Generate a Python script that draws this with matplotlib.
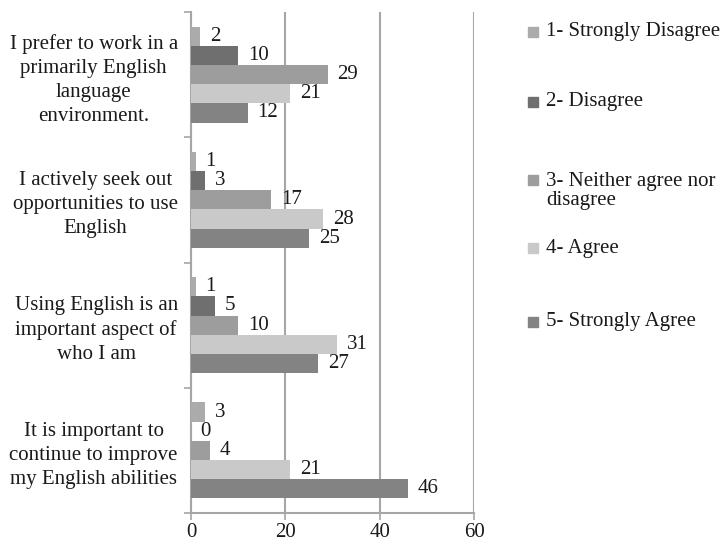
import matplotlib
matplotlib.use("Agg")
import matplotlib.pyplot as plt
from matplotlib.patches import Rectangle
import numpy as np

categories = [
    "I prefer to work in a\nprimarily English\nlanguage\nenvironment.",
    "I actively seek out\nopportunities to use\nEnglish",
    "Using English is an\nimportant aspect of\nwho I am",
    "It is important to\ncontinue to improve\nmy English abilities",
]
series_names = [
    "1- Strongly Disagree",
    "2- Disagree",
    "3- Neither agree nor\ndisagree",
    "4- Agree",
    "5- Strongly Agree",
]
values = [
    [2, 1, 1, 3],      # 1- Strongly Disagree
    [10, 3, 5, 0],     # 2- Disagree
    [29, 17, 10, 4],   # 3- Neither
    [21, 28, 31, 21],  # 4- Agree
    [12, 25, 27, 46],  # 5- Strongly Agree
]
colors = ["#ababab", "#6f6f6f", "#9d9d9d", "#c9c9c9", "#838383"]
xticks = [0, 20, 40, 60]

plt.rcParams['font.family'] = ['Liberation Serif', 'DejaVu Serif']
FS = 15
TXT = '#1a1a1a'

fig = plt.figure(figsize=(7.25, 5.45), dpi=100)
W, H = 725, 545
ax = fig.add_axes([191 / W, 1 - 513 / H, (474 - 191) / W, (513 - 12) / H])

n = len(series_names)
h = 0.153
y = np.arange(len(categories))
for k in range(n):
    pos = y + (k - (n - 1) / 2) * h
    ax.barh(pos, values[k], height=h, color=colors[k], zorder=3)
    for p, v in zip(pos, values[k]):
        ax.annotate(str(v), (v, p), xytext=(7, 0), textcoords='offset points',
                    ha='left', va='center', fontsize=FS, color=TXT)

ax.set_xlim(0, 60)
ax.set_ylim(len(categories) - 0.5, -0.5)
ax.set_xticks(xticks)
ax.set_xticklabels([str(t) for t in xticks], fontsize=FS, color=TXT)
ax.xaxis.grid(True, color='#a6a6a6', linewidth=1.5, zorder=0)

ax.set_yticks(np.arange(len(categories) + 1) - 0.5)
ax.set_yticklabels([])
ax.set_yticks(y, minor=True)
ax.set_yticklabels(categories, minor=True, fontsize=FS, multialignment='center',
                   linespacing=1.36, color=TXT)
ax.tick_params(axis='y', which='minor', length=0, pad=9.5)
ax.tick_params(axis='y', which='major', length=5, color='#a6a6a6', width=1.2)
ax.tick_params(axis='x', length=5, color='#a6a6a6', width=1.2, pad=2.5)

for s in ['top', 'right']:
    ax.spines[s].set_visible(False)
for s in ['left', 'bottom']:
    ax.spines[s].set_color('#a6a6a6')
    ax.spines[s].set_linewidth(1.5)

# legend drawn manually
leg_y = [31.7, 101.7, 180, 248, 321.7]
for name, c, ly in zip(series_names, colors, leg_y):
    fig.patches.append(Rectangle((528 / W, 1 - (ly + 5) / H), 10 / W, 10 / H,
                                 transform=fig.transFigure, color=c, figure=fig))
    if '\n' in name:
        fig.text(546 / W, 1 - (ly - 8) / H, name, fontsize=FS, va='top', ha='left',
                 linespacing=1.03, color=TXT)
    else:
        fig.text(546 / W, 1 - ly / H, name, fontsize=FS, va='center', ha='left',
                 color=TXT)

fig.savefig("out.png", dpi=100)
